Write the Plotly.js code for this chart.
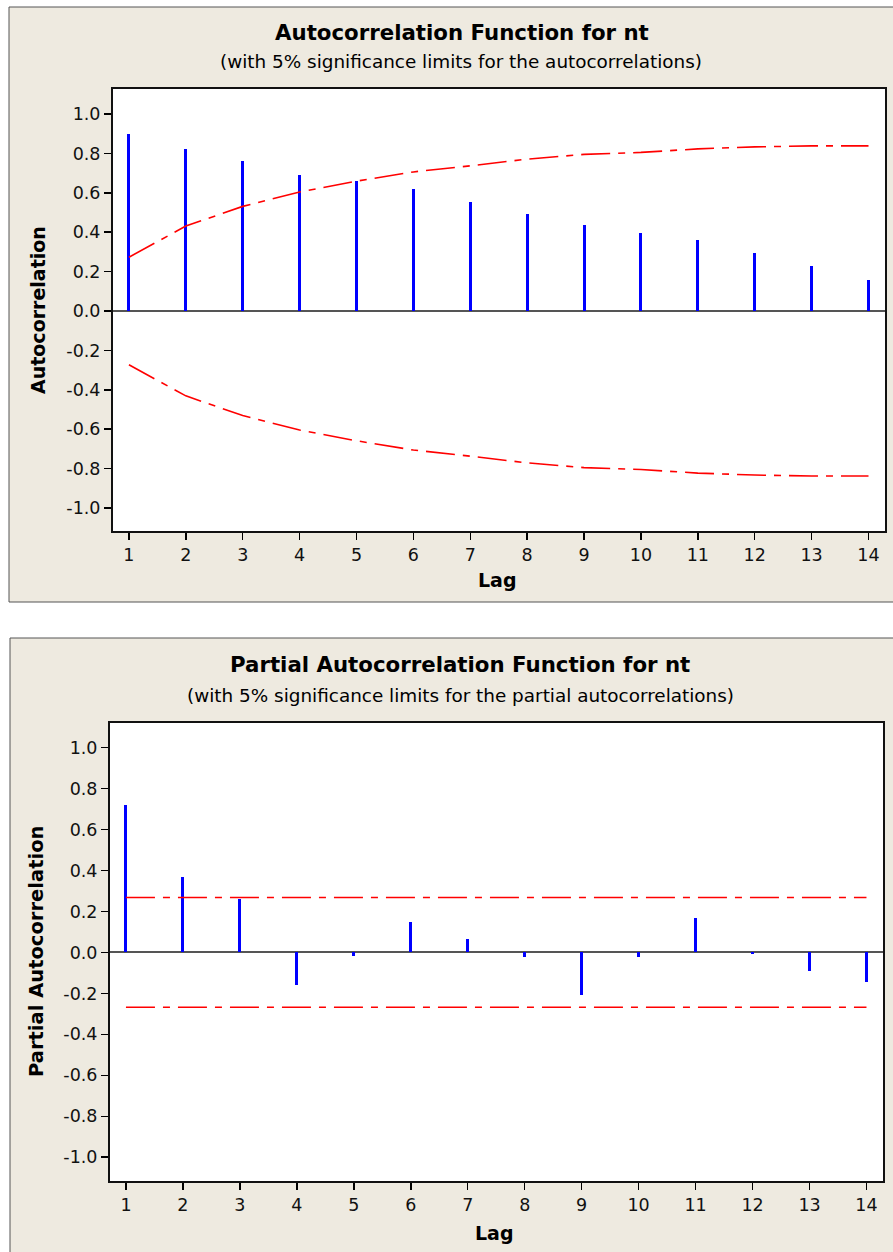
<!DOCTYPE html>
<html>
<head>
<meta charset="utf-8">
<script src="https://cdn.plot.ly/plotly-3.0.1.min.js"></script>
<style>
html,body{margin:0;padding:0;background:#ffffff;}
#chart{width:893px;height:1252px;}
</style>
</head>
<body>
<div id="chart"></div>
<script>
// ---- data ----
const lags = [1,2,3,4,5,6,7,8,9,10,11,12,13,14];
const acfValues = [0.897,0.822,0.764,0.688,0.662,0.621,0.553,0.494,0.435,0.394,0.362,0.293,0.226,0.158];
const acfUpperLimit = [0.273,0.431,0.531,0.604,0.659,0.706,0.737,0.771,0.795,0.805,0.823,0.833,0.838,0.838];
const acfLowerLimit = acfUpperLimit.map(v => -v);
const pacfValues = [0.718,0.367,0.259,-0.158,-0.017,0.150,0.065,-0.024,-0.210,-0.024,0.166,-0.010,-0.093,-0.142];
const pacfLimit = 0.268;
const pacfUpperLimit = lags.map(() => pacfLimit);
const pacfLowerLimit = lags.map(() => -pacfLimit);
const yTickVals = [-1.0,-0.8,-0.6,-0.4,-0.2,0.0,0.2,0.4,0.6,0.8,1.0];
const yTickText = ["-1.0","-0.8","-0.6","-0.4","-0.2","0.0","0.2","0.4","0.6","0.8","1.0"];
const xTickVals = lags;
const xTickText = lags.map(String);
const acfTitle = "Autocorrelation Function for nt";
const acfSubtitle = "(with 5% significance limits for the autocorrelations)";
const pacfTitle = "Partial Autocorrelation Function for nt";
const pacfSubtitle = "(with 5% significance limits for the partial autocorrelations)";

// ---- styles ----
const W = 893, H = 1252;
const px = v => v / W;
const py = v => 1 - v / H;
const FONT = "DejaVu Sans";
const BEIGE = "#EEEAE0";
const limitLine = {color:"#FF0000", width:1.6, dash:"29px,8px,7px,8px"};

function stems(x, y, xa, ya){
  return {type:"bar", x:x, y:y, xaxis:xa, yaxis:ya, width:0.052,
          marker:{color:"#0000FF", line:{width:0}}, hoverinfo:"skip"};
}
function limit(x, y, xa, ya){
  return {type:"scatter", mode:"lines", x:x, y:y, xaxis:xa, yaxis:ya,
          line:limitLine, hoverinfo:"skip"};
}

const traces = [
  stems(lags, acfValues, "x", "y"),
  limit(lags, acfUpperLimit, "x", "y"),
  limit(lags, acfLowerLimit, "x", "y"),
  stems(lags, pacfValues, "x2", "y2"),
  limit(lags, pacfUpperLimit, "x2", "y2"),
  limit(lags, pacfLowerLimit, "x2", "y2")
];

function xAxis(domain, anchor){
  return {domain:domain, anchor:anchor, range:[0.72,14.29], tickmode:"array",
          tickvals:xTickVals, ticktext:xTickText, ticks:"outside", ticklen:7,
          tickwidth:1.5, tickcolor:"#000", showline:true, linecolor:"#111",
          linewidth:2, mirror:true, showgrid:false, zeroline:false,
          tickfont:{family:FONT, size:17.5, color:"#111"}, fixedrange:true};
}
function yAxis(domain, anchor, range){
  return {domain:domain, anchor:anchor, range:range, tickmode:"array",
          tickvals:yTickVals, ticktext:yTickText, ticks:"outside", ticklen:7,
          tickwidth:1.5, tickcolor:"#000", showline:true, linecolor:"#111",
          linewidth:2, mirror:true, showgrid:false, zeroline:true,
          zerolinecolor:"#555", zerolinewidth:2,
          tickfont:{family:FONT, size:17.5, color:"#111"}, fixedrange:true};
}

const layout = {
  width:W, height:H, margin:{l:0,r:0,t:0,b:0,pad:0},
  paper_bgcolor:"#ffffff", plot_bgcolor:"rgba(0,0,0,0)",
  showlegend:false, font:{family:FONT, color:"#111"}, bargap:0,
  xaxis: xAxis([px(113), px(885)], "y"),
  yaxis: yAxis([py(531), py(89)], "x", [-1.117, 1.127]),
  xaxis2: xAxis([px(110), px(883)], "y2"),
  yaxis2: yAxis([py(1181), py(723)], "x2", [-1.116, 1.12]),
  shapes:[
    {type:"rect", xref:"paper", yref:"paper", x0:px(9), x1:px(930), y0:py(602), y1:py(7),
     fillcolor:BEIGE, line:{color:"#555", width:1}, layer:"below"},
    {type:"rect", xref:"paper", yref:"paper", x0:px(10), x1:px(930), y0:py(1270), y1:py(638),
     fillcolor:BEIGE, line:{color:"#555", width:1}, layer:"below"},
    {type:"rect", xref:"paper", yref:"paper", x0:px(113), x1:px(885), y0:py(531), y1:py(89),
     fillcolor:"#ffffff", line:{width:0}, layer:"below"},
    {type:"rect", xref:"paper", yref:"paper", x0:px(110), x1:px(883), y0:py(1181), y1:py(723),
     fillcolor:"#ffffff", line:{width:0}, layer:"below"}
  ],
  annotations:[
    {text:"<b>"+acfTitle+"</b>", xref:"paper", yref:"paper", x:px(462), y:py(33),
     xanchor:"center", yanchor:"middle", showarrow:false, font:{family:FONT, size:21.3, color:"#000"}},
    {text:acfSubtitle, xref:"paper", yref:"paper", x:px(461), y:py(61),
     xanchor:"center", yanchor:"middle", showarrow:false, font:{family:FONT, size:18.4, color:"#000"}},
    {text:"<b>Autocorrelation</b>", xref:"paper", yref:"paper", x:px(38), y:py(310), textangle:-90,
     xanchor:"center", yanchor:"middle", showarrow:false, font:{family:FONT, size:19, color:"#000"}},
    {text:"<b>Lag</b>", xref:"paper", yref:"paper", x:px(497), y:py(580),
     xanchor:"center", yanchor:"middle", showarrow:false, font:{family:FONT, size:19, color:"#000"}},
    {text:"<b>"+pacfTitle+"</b>", xref:"paper", yref:"paper", x:px(460), y:py(664),
     xanchor:"center", yanchor:"middle", showarrow:false, font:{family:FONT, size:21.3, color:"#000"}},
    {text:pacfSubtitle, xref:"paper", yref:"paper", x:px(460), y:py(695),
     xanchor:"center", yanchor:"middle", showarrow:false, font:{family:FONT, size:18.4, color:"#000"}},
    {text:"<b>Partial Autocorrelation</b>", xref:"paper", yref:"paper", x:px(36), y:py(952), textangle:-90,
     xanchor:"center", yanchor:"middle", showarrow:false, font:{family:FONT, size:19.5, color:"#000"}},
    {text:"<b>Lag</b>", xref:"paper", yref:"paper", x:px(494), y:py(1233),
     xanchor:"center", yanchor:"middle", showarrow:false, font:{family:FONT, size:19, color:"#000"}}
  ]
};

Plotly.newPlot("chart", traces, layout, {displayModeBar:false, staticPlot:true});
</script>
</body>
</html>
